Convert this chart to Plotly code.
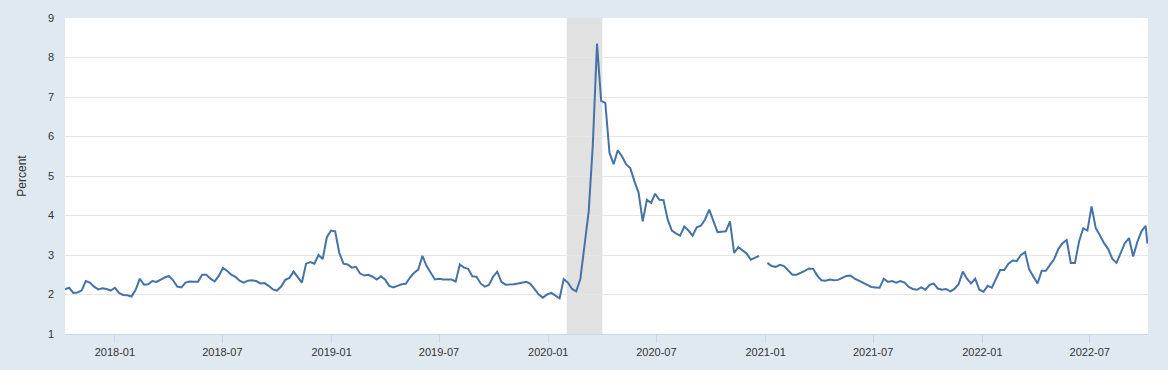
import pandas as pd
import plotly.graph_objects as go

start_date = "2017-10-09"
values = [
    2.13, 2.17, 2.04, 2.05, 2.10, 2.34, 2.30, 2.20, 2.13, 2.16,
    2.14, 2.10, 2.17, 2.04, 1.99, 1.98, 1.95, 2.12, 2.40, 2.25,
    2.26, 2.34, 2.32, 2.38, 2.43, 2.47, 2.36, 2.20, 2.18, 2.30,
    2.33, 2.32, 2.32, 2.50, 2.50, 2.40, 2.33, 2.47, 2.67, 2.60,
    2.50, 2.45, 2.35, 2.30, 2.35, 2.36, 2.34, 2.28, 2.29, 2.22,
    2.13, 2.10, 2.20, 2.37, 2.42, 2.58, 2.45, 2.30, 2.78, 2.82,
    2.78, 3.00, 2.90, 3.45, 3.62, 3.60, 3.05, 2.78, 2.76, 2.68,
    2.70, 2.53, 2.48, 2.50, 2.45, 2.38, 2.46, 2.38, 2.22, 2.18,
    2.22, 2.26, 2.27, 2.43, 2.55, 2.63, 2.98, 2.72, 2.55, 2.38,
    2.40, 2.38, 2.38, 2.38, 2.33, 2.76, 2.68, 2.65, 2.46, 2.45,
    2.28, 2.20, 2.24, 2.45, 2.58, 2.32, 2.25, 2.25, 2.26, 2.28,
    2.30, 2.32, 2.27, 2.14, 2.00, 1.92, 2.00, 2.04, 1.96, 1.90,
    2.39, 2.30, 2.14, 2.08, 2.40, 3.30, 4.10, 5.80, 8.35, 6.90,
    6.85, 5.59, 5.30, 5.65, 5.50, 5.30, 5.20, 4.87, 4.58, 3.85,
    4.40, 4.32, 4.55, 4.40, 4.39, 3.90, 3.62, 3.55, 3.49, 3.72,
    3.62, 3.49, 3.70, 3.74, 3.90, 4.15, 3.85, 3.58, 3.59, 3.60,
    3.85, 3.05, 3.20, 3.12, 3.04, 2.88, 2.93, 2.98, None, 2.80,
    2.72, 2.70, 2.75, 2.72, 2.60, 2.50, 2.50, 2.54, 2.60, 2.66,
    2.65, 2.48, 2.36, 2.35, 2.38, 2.36, 2.37, 2.42, 2.47, 2.48,
    2.40, 2.35, 2.30, 2.24, 2.19, 2.18, 2.17, 2.40, 2.32, 2.34,
    2.30, 2.34, 2.30, 2.19, 2.14, 2.12, 2.18, 2.12, 2.24, 2.28,
    2.15, 2.12, 2.14, 2.08, 2.14, 2.26, 2.58, 2.40, 2.28, 2.40,
    2.12, 2.07, 2.22, 2.17, 2.38, 2.62, 2.62, 2.78, 2.86, 2.85,
    3.00, 3.07, 2.63, 2.45, 2.28, 2.60, 2.60, 2.75, 2.90, 3.15,
    3.30, 3.38, 2.80, 2.80, 3.35, 3.68, 3.62, 4.23, 3.68, 3.50,
    3.30, 3.15, 2.90, 2.80, 3.03, 3.30, 3.43, 2.96, 3.33, 3.60,
    3.74,
]
last_date = "2022-10-06"
last_value = 3.29

dates = list(pd.date_range(start_date, periods=len(values), freq="7D")) + [pd.Timestamp(last_date)]
series = values + [last_value]

recession_start = "2020-02-01"
recession_end = "2020-04-01"
x_range = ["2017-10-09", "2022-10-07"]
tick_vals = ["2018-01-01", "2018-07-01", "2019-01-01", "2019-07-01", "2020-01-01",
             "2020-07-01", "2021-01-01", "2021-07-01", "2022-01-01", "2022-07-01"]
tick_text = ["2018-01", "2018-07", "2019-01", "2019-07", "2020-01",
             "2020-07", "2021-01", "2021-07", "2022-01", "2022-07"]

fig = go.Figure()
fig.add_trace(go.Scatter(
    x=dates, y=series, mode="lines",
    line=dict(color="#4572a7", width=2),
    connectgaps=False, showlegend=False, hoverinfo="skip",
))
fig.add_shape(type="rect", xref="x", yref="paper",
              x0=recession_start, x1=recession_end, y0=0, y1=1,
              fillcolor="#e1e1e1", line=dict(width=0), layer="between")

fig.update_layout(
    width=1168, height=370,
    margin=dict(l=65, r=20, t=13, b=32),
    paper_bgcolor="#e1e9f0",
    plot_bgcolor="#ffffff",
    font=dict(family="Arial, Liberation Sans, sans-serif", size=11, color="#333333"),
)
fig.update_xaxes(
    type="date", range=x_range,
    tickvals=tick_vals, ticktext=tick_text,
    showgrid=False, ticks="outside", ticklen=8, tickcolor="#ccd6eb",
    showline=True, linecolor="#ccd6eb", linewidth=1,
    tickfont=dict(size=11, color="#333333"),
)
fig.update_yaxes(
    range=[1, 9], dtick=1,
    showgrid=True, gridcolor="#e6e6e6", gridwidth=1,
    zeroline=False, ticks="", ticklabelstandoff=10,
    title=dict(text="Percent", font=dict(size=12, color="#333333"), standoff=18),
    tickfont=dict(size=11, color="#333333"),
)

fig.write_html(
    "out.html",
    config={"displayModeBar": False},
    post_script="document.body.style.margin='0';document.body.style.overflow='hidden';",
)
